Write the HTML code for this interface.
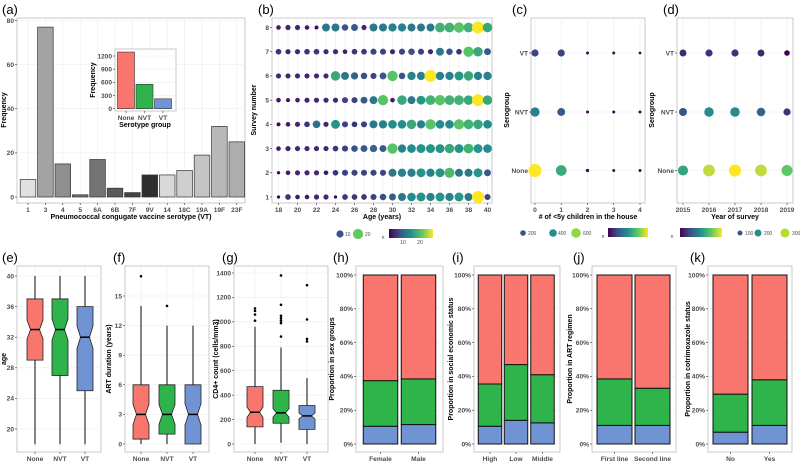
<!DOCTYPE html>
<html><head><meta charset="utf-8"><style>
body{margin:0;background:#fff}
svg{display:block;font-family:"Liberation Sans",sans-serif}
.tk{font-size:6.6px;fill:#4d4d4d;font-weight:bold}
.tt{font-size:7px;fill:#000;font-weight:bold}
.pl{font-size:13px;fill:#000}
.lg{font-size:5px;fill:#4d4d4d}
</style></head><body>
<svg id="s" width="800" height="464" viewBox="0 0 800 464"></svg>
<script>
const aCats=["1","3","4","5","6A","6B","7F","9V","14","18C","19A","19F","23F"];
const aVals=[8,77,15,1,17,4,2,10,10,12,19,32,25];
const aFills=["#e0e0e0","#a3a3a3","#8f8f8f","#707070","#737373","#5a5a5a","#424242","#2e2e2e","#d9d9d9","#cfcfcf","#c4c4c4","#b8b8b8","#adadad"];
const insetCats=["None","NVT","VT"];
const insetVals=[1290,555,225];
const yTicksA=[0,20,40,60,80];
const bAges=[18,19,20,21,22,23,24,25,26,27,28,29,30,31,32,33,34,35,36,37,38,39,40];
const bSurveys=[1,2,3,4,5,6,7,8];
const bN=[
[2,6,4,4,5,5,2,6,6,6,7,8,9,12,14,15,13,15,13,15,12,27,7],
[2,4,5,5,5,4,6,7,7,7,7,7,12,13,13,15,13,15,19,12,12,15,9],
[4,5,5,5,5,5,6,7,8,9,10,9,20,13,14,15,15,15,17,15,18,15,14],
[3,4,5,6,11,5,15,7,6,7,12,13,14,14,17,13,20,14,14,20,18,17,14],
[4,3,4,5,5,5,5,7,7,9,12,20,4,17,12,15,18,20,18,18,17,27,17],
[5,5,5,5,5,5,17,12,10,8,7,9,20,8,13,13,27,13,13,15,17,13,13],
[6,5,5,6,6,5,5,4,6,6,7,7,5,7,8,7,5,12,8,6,20,17,9],
[4,5,5,4,3,12,12,8,9,5,12,12,13,13,12,12,12,18,18,20,18,27,17]];
const groups=["None","NVT","VT"];
const cX=[0,1,2,3,4];
const cN=[[700,430,10,5,5],[300,200,5,5,5],[150,150,5,5,3]];
const dYears=[2015,2016,2017,2018,2019];
const dN=[[230,330,360,330,280],[130,200,200,150,100],[90,100,100,90,50]];
const eStats=[[18,29,33,37,40],[18,27,33,37,40],[18,25,32,36,40]];
const fStats=[[0,0.5,3,6,14],[0,1,3,6,12],[0,0,3,6,12]];
const fOut=[[17],[14],[]];
const gStats=[[0,140,260,470,960],[10,170,255,440,790],[0,120,230,315,540]];
const gOut=[[1010,1060,1090,1110],[880,990,1010,1030,1050,1140,1380],[840,860,1020,1300]];
const hCats=["Female","Male"],hVT=[10.5,11.5],hNVT=[27,27];
const iCats=["High","Low","Middle"],iVT=[10.5,14,12.5],iNVT=[25,33,28.5];
const jCats=["First line","Second line"],jVT=[11,11],jNVT=[27.5,22];
const kCats=["No","Yes"],kVT=[7,11],kNVT=[22.5,27];

const S=document.getElementById('s');const NS="http://www.w3.org/2000/svg";
function el(t,a,p){const e=document.createElementNS(NS,t);for(const k in a)e.setAttribute(k,a[k]);(p||S).appendChild(e);return e;}
function txt(x,y,s,cls,anchor,rot){const a={x:x,y:y,class:cls,'text-anchor':anchor||'middle'};if(rot)a.transform=`rotate(-90 ${x} ${y})`;const e=el('text',a);e.textContent=s;return e;}
function lin(d0,d1,r0,r1){return v=>r0+(v-d0)/(d1-d0)*(r1-r0);}
const RED="#f8766d",GRN="#2fb34b",BLU="#6f93d3";
function frame(x0,y0,x1,y1,name){const r=el('rect',{x:x0,y:y0,width:x1-x0,height:y1-y0,fill:'#fff',stroke:'#c8c8c8','stroke-width':1});}
function hgrid(x0,x1,y){el('line',{x1:x0,x2:x1,y1:y,y2:y,stroke:'#ebebeb','stroke-width':0.6});}
function vgrid(y0,y1,x){el('line',{x1:x,x2:x,y1:y0,y2:y1,stroke:'#ebebeb','stroke-width':0.6});}
function ytick(x,y,s){el('line',{x1:x-2,x2:x,y1:y,y2:y,stroke:'#333','stroke-width':0.6});txt(x-3,y+2.3,s,'tk','end');}
function xtick(x,y,s){el('line',{x1:x,x2:x,y1:y,y2:y+2,stroke:'#333','stroke-width':0.6});txt(x,y+9,s,'tk');}
function viridis(t){const st=[[68,1,84],[59,82,139],[33,145,140],[94,201,98],[253,231,37]];t=Math.max(0,Math.min(1,t))*4;const i=Math.min(3,Math.floor(t)),f=t-i;const c=st[i].map((v,k)=>Math.round(v+(st[i+1][k]-v)*f));return `rgb(${c})`;}
function label(x,y,s){txt(x,y,s,'pl','start');}

label(2,14,"(a)");
frame(17,18,245,203,'panel-a');
const aY=lin(0,80,197,20.5), aX=i=>28+i*17.4;
yTicksA.forEach(v=>{hgrid(17,245,aY(v));ytick(17,aY(v),v);});
aCats.forEach((c,i)=>{vgrid(18,203,aX(i));});
aVals.forEach((v,i)=>{const r=el('rect',{x:aX(i)-7.8,y:aY(v),width:15.6,height:aY(0)-aY(v),fill:aFills[i],stroke:'#333','stroke-width':0.7});xtick(aX(i),203,aCats[i]);});
txt(131,219,"Pneumococcal congugate vaccine serotype (VT)",'tt');
txt(6,110,"Frequency",'tt','middle',true);
frame(115,49,176,111,'inset-panel');
const iY=lin(0,1200,108.7,56);
[0,300,600,900,1200].forEach(v=>{hgrid(115,176,iY(v));ytick(115,iY(v),v);});
insetVals.forEach((v,i)=>{const x=126+i*18.5;const r=el('rect',{x:x-8.5,y:iY(v),width:17,height:iY(0)-iY(v),fill:[RED,GRN,BLU][i],stroke:'#333','stroke-width':0.6});xtick(x,111,insetCats[i]);});
txt(145,127,"Serotype group",'tt');
txt(95,80,"Frequency",'tt','middle',true);

label(258,14,"(b)");
frame(272,18,492,203,'panel-b');
const bX=lin(18,40,278.5,487.5), bY=lin(1,8,197,27.5);
bSurveys.forEach(s=>{hgrid(272,492,bY(s));ytick(272,bY(s),s);});
bAges.forEach(a=>{vgrid(18,203,bX(a));if(a%2==0)xtick(bX(a),203,a);});
bN.forEach((row,si)=>row.forEach((n,ai)=>{const c=el('circle',{cx:bX(bAges[ai]),cy:bY(bSurveys[si]),r:Math.sqrt(n)*1.15,fill:viridis((n-2)/25)});}));
txt(382,219,"Age (years)",'tt');
txt(256,110,"Survey number",'tt','middle',true);
el('circle',{cx:340,cy:234,r:3.6,fill:'#3b528b'});txt(345,236,"10",'lg','start');
el('circle',{cx:358,cy:234,r:5.1,fill:'#5ec962'});txt(365,236,"20",'lg','start');
txt(383,239,"n",'lg');
let gd=el('defs',{});let lg=el('linearGradient',{id:'vir'},gd);[0,.25,.5,.75,1].forEach(o=>el('stop',{offset:o,'stop-color':viridis(o)},lg));
el('rect',{x:389,y:229,width:44,height:9,fill:'url(#vir)'});txt(403,244,"10",'lg');txt(420,244,"20",'lg');

label(512,14,"(c)");
frame(531,18,645,203,'panel-c');
const cXs=lin(0,4,535,640), gY=i=>[170.5,112,53][i];
groups.forEach((g,i)=>{hgrid(531,645,gY(i));ytick(531,gY(i),g);});
cX.forEach(v=>{vgrid(18,203,cXs(v));xtick(cXs(v),203,v);});
cN.forEach((row,gi)=>row.forEach((n,xi)=>{const c=el('circle',{cx:cXs(cX[xi]),cy:gY(gi),r:1+Math.sqrt(n)*0.21,fill:viridis((n-3)/697)});}));
txt(588,219,"# of <5y children in the house",'tt');
txt(509,110,"Serogroup",'tt','middle',true);
el('circle',{cx:523,cy:233,r:2.8,fill:'#3b528b'});txt(528,235,"200",'lg','start');
el('circle',{cx:553,cy:233,r:3.8,fill:'#21908d'});txt(558,235,"400",'lg','start');
el('circle',{cx:576,cy:233,r:4.8,fill:'#8fd744'});txt(583,235,"600",'lg','start');
txt(603,238,"n",'lg');el('rect',{x:608,y:228,width:40,height:9,fill:'url(#vir)'});

label(663,14,"(d)");
frame(677,18,793,203,'panel-d');
const dX=lin(2015,2019,683,787);
groups.forEach((g,i)=>{hgrid(677,793,gY(i));ytick(677,gY(i),g);});
dYears.forEach(v=>{vgrid(18,203,dX(v));xtick(dX(v),203,v);});
dN.forEach((row,gi)=>row.forEach((n,xi)=>{const c=el('circle',{cx:dX(dYears[xi]),cy:gY(gi),r:0.8+Math.sqrt(n)*0.28,fill:viridis((n-50)/310)});}));
txt(735,219,"Year of survey",'tt');
txt(654,110,"Serogroup",'tt','middle',true);
txt(672,238,"n",'lg');el('rect',{x:680,y:228,width:42,height:9,fill:'url(#vir)'});
el('circle',{cx:740,cy:233,r:2.5,fill:'#3b528b'});txt(745,235,"100",'lg','start');
el('circle',{cx:758,cy:233,r:3.5,fill:'#21908d'});txt(764,235,"200",'lg','start');
el('circle',{cx:785,cy:233,r:4.5,fill:'#b5de2b'});txt(792,235,"300",'lg','start');

function boxes(name,x0,x1,yS,ticks,stats,outs,centers,ytitle,tx){
  frame(x0,266,x1,452,'panel-'+name);
  ticks.forEach(v=>{hgrid(x0,x1,yS(v));ytick(x0,yS(v),v);});
  centers.forEach((cx,i)=>{vgrid(266,452,cx);xtick(cx,452,groups[i]);});
  stats.forEach((s,i)=>{const cx=centers[i],w=8,nw=4.5;const n=(s[3]-s[1])*0.08+ (yS(0)-yS(1)>5?0.6:(s[3]-s[1])*0.05);
    el('line',{x1:cx,x2:cx,y1:yS(s[0]),y2:yS(s[4]),stroke:'#333','stroke-width':1.2});
    const nh=Math.max(1.8,Math.abs(yS(s[2]+n)-yS(s[2])));
    const ym=yS(s[2]),yq1=yS(s[1]),yq3=yS(s[3]);
    const p=el('path',{d:`M${cx-w},${yq3} H${cx+w} V${Math.min(yq1,ym-nh)} L${cx+nw},${ym} L${cx+w},${Math.max(yq3,Math.min(yq1,ym+nh))} V${yq1} H${cx-w} V${Math.max(yq3,Math.min(yq1,ym+nh))} L${cx-nw},${ym} L${cx-w},${Math.min(yq1,ym-nh)} Z`,fill:[RED,GRN,BLU][i],stroke:'#222','stroke-width':0.8});
    
    el('line',{x1:cx-nw,x2:cx+nw,y1:ym,y2:ym,stroke:'#000','stroke-width':1.5});
    (outs[i]||[]).forEach(o=>el('circle',{cx:cx,cy:yS(o),r:1.3,fill:'#000'}));
  });
  txt(tx,359,ytitle,'tt','middle',true);
}
label(2,262,"(e)");
boxes('e',17,101,lin(20,40,429,276),[20,24,28,32,36,40],eStats,[],[35,60,85],"age",6);
label(113,262,"(f)");
boxes('f',125,209,lin(0,15,444,296),[0,3,6,9,12,15],fStats,fOut,[141,167,193],"ART duration (years)",111);
label(222,262,"(g)");
boxes('g',234,328,lin(0,1400,444,273),[0,200,400,600,800,1000,1200,1400],gStats,gOut,[255,281,307],"CD4+ count (cells/mm3)",218);

function stack(name,x0,x1,cats,vt,nvt,centers,bw,ytitle,tx){
  frame(x0,266,x1,452,'panel-'+name);
  const y=lin(0,100,444,275);
  [0,20,40,60,80,100].forEach(v=>{hgrid(x0,x1,y(v));ytick(x0,y(v),v+'%');});
  cats.forEach((c,i)=>{const cx=centers[i];xtick(cx,452,c);
    const segs=[[0,vt[i],BLU,'vt'],[vt[i],vt[i]+nvt[i],GRN,'nvt'],[vt[i]+nvt[i],100,RED,'none']];
    segs.forEach(s=>{const r=el('rect',{x:cx-bw/2,y:y(s[1]),width:bw,height:y(s[0])-y(s[1]),fill:s[2],stroke:'#111','stroke-width':1});});
  });
  txt(tx,359,ytitle,'tt','middle',true);
}
label(333,262,"(h)");
stack('h',356,443,hCats,hVT,hNVT,[380.5,418.5],34.5,"Proportion in sex groups",334);
label(452,262,"(i)");
stack('i',474,560,iCats,iVT,iNVT,[490,516,542.5],23.5,"Proportion in social economic status",453);
label(573,262,"(j)");
stack('j',592,676,jCats,jVT,jNVT,[614.5,652.5],35,"Proportion in ART regimen",572);
label(690,262,"(k)");
stack('k',708,792,kCats,kVT,kNVT,[730.5,769.5],35,"Proportion in cotrimoxazole status",690);
</script>
</body></html>
